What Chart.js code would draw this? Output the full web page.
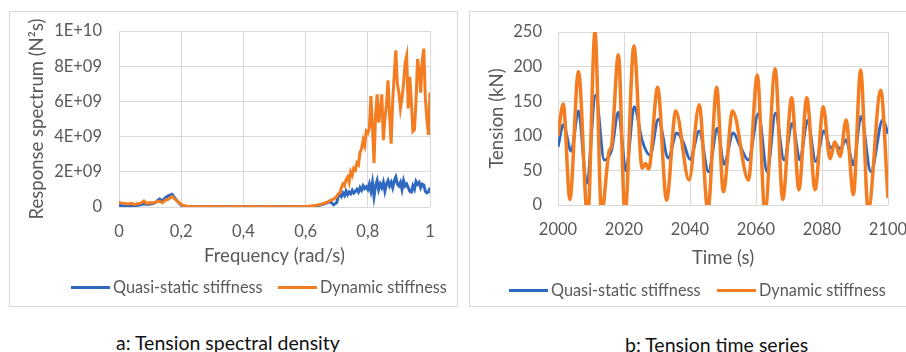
<!DOCTYPE html>
<html>
<head>
<meta charset="utf-8">
<script src="https://cdn.jsdelivr.net/npm/chart.js@4"></script>
<style>
  body { margin: 0; background: #fff; width: 906px; height: 352px; position: relative; overflow: hidden; font-family: Lato, "Open Sans", sans-serif; }
  .panel { position: absolute; border: 1px solid #d9d9d9; }
  .panel canvas { position: absolute; left: 0; top: 0; }
  .leg { position: absolute; font-size: 16.3px; color: #595959; white-space: nowrap; line-height: 18px; }
  .leg span.ln { display: inline-block; width: 39px; height: 3px; vertical-align: middle; margin-right: 3px; position: relative; top: -1px; }
  .cap { position: absolute; font-size: 19.5px; line-height: 1; color: #111; white-space: nowrap; }
</style>
</head>
<body>
<div class="panel" style="left:9px; top:11px; width:447px; height:294px;"><canvas id="chartA" width="447" height="294"></canvas></div>
<div class="panel" style="left:469px; top:11px; width:436px; height:294px; border-right:none;"><canvas id="chartB" width="436" height="294"></canvas></div>

<div class="leg" style="left:71px; top:278px;"><span class="ln" style="background:#2F68C0"></span>Quasi-static stiffness</div>
<div class="leg" style="left:278px; top:278px;"><span class="ln" style="background:#F47D22"></span>Dynamic stiffness</div>
<div class="leg" style="left:509px; top:281px;"><span class="ln" style="background:#2F68C0"></span>Quasi-static stiffness</div>
<div class="leg" style="left:717px; top:281px;"><span class="ln" style="background:#F47D22"></span>Dynamic stiffness</div>

<div class="cap" style="left:116px; top:333px;">a: Tension spectral density</div>
<div class="cap" style="left:625px; top:335px;">b: Tension time series</div>

<script>
// ---- chart a: spectral density (values in 1E+09 N²s) ----
const freqA = [
  0, 0.01, 0.02, 0.03, 0.04, 0.05, 0.06, 0.07, 0.08, 0.09,
  0.10, 0.11, 0.12, 0.13, 0.14, 0.15, 0.16, 0.17, 0.18, 0.19,
  0.20, 0.21, 0.22, 0.23, 0.24, 0.25, 0.26, 0.27, 0.28, 0.29,
  0.30, 0.31, 0.32, 0.33, 0.34, 0.35, 0.36, 0.37, 0.38, 0.39,
  0.40, 0.41, 0.42, 0.43, 0.44, 0.45, 0.46, 0.47, 0.48, 0.49,
  0.50, 0.51, 0.52, 0.53, 0.54, 0.55, 0.56, 0.57, 0.58, 0.59,
  0.60, 0.61, 0.62, 0.63, 0.64, 0.65, 0.66, 0.67, 0.68, 0.69,
  0.700, 0.705, 0.710, 0.715, 0.720, 0.725, 0.730, 0.735, 0.740, 0.745,
  0.750, 0.755, 0.760, 0.765, 0.770, 0.775, 0.780, 0.785, 0.790, 0.795,
  0.800, 0.805, 0.810, 0.815, 0.820, 0.825, 0.830, 0.835, 0.840, 0.845,
  0.850, 0.855, 0.860, 0.865, 0.870, 0.875, 0.880, 0.885, 0.890, 0.895,
  0.900, 0.905, 0.910, 0.915, 0.920, 0.925, 0.930, 0.935, 0.940, 0.945,
  0.950, 0.955, 0.960, 0.965, 0.970, 0.975, 0.980, 0.985, 0.990, 0.995,
  1.000
];
const quasiA = [
  0.10, 0.07, 0.05, 0.07, 0.09, 0.06, 0.10, 0.13, 0.18, 0.14,
  0.17, 0.20, 0.30, 0.45, 0.35, 0.55, 0.65, 0.72, 0.50, 0.28,
  0.10, 0.03, 0.02, 0.01, 0.01, 0.01, 0.01, 0.01, 0.01, 0.01,
  0.01, 0.01, 0.01, 0.01, 0.01, 0.01, 0.01, 0.01, 0.01, 0.01,
  0.01, 0.01, 0.01, 0.01, 0.01, 0.01, 0.01, 0.01, 0.01, 0.01,
  0.01, 0.01, 0.01, 0.01, 0.01, 0.01, 0.01, 0.01, 0.01, 0.01,
  0.02, 0.03, 0.04, 0.06, 0.09, 0.13, 0.18, 0.25, 0.30, 0.12,
  0.25, 0.60, 0.75, 0.60, 0.80, 0.65, 0.90, 0.70, 0.85, 0.75,
  0.95, 0.80, 0.90, 1.00, 0.85, 1.10, 0.95, 1.20, 1.05, 1.15,
  1.00, 1.30, 0.90, 1.40, 0.60, 1.20, 1.50, 1.00, 1.30, 1.10,
  1.40, 0.90, 1.30, 1.50, 1.20, 1.40, 1.10, 1.50, 1.70, 1.30,
  1.20, 1.40, 1.00, 1.50, 1.20, 1.30, 1.10, 0.90, 0.85, 1.20,
  1.00, 1.45, 1.30, 1.40, 1.10, 1.30, 1.25, 0.90, 0.80, 0.85,
  1.10
];
const dynA = [
  0.25, 0.22, 0.20, 0.17, 0.21, 0.15, 0.19, 0.22, 0.35, 0.20,
  0.25, 0.22, 0.30, 0.33, 0.24, 0.40, 0.45, 0.60, 0.45, 0.30,
  0.15, 0.07, 0.04, 0.03, 0.03, 0.02, 0.03, 0.02, 0.02, 0.03,
  0.02, 0.02, 0.02, 0.03, 0.02, 0.02, 0.02, 0.02, 0.03, 0.02,
  0.02, 0.02, 0.02, 0.03, 0.02, 0.02, 0.02, 0.02, 0.02, 0.03,
  0.02, 0.02, 0.02, 0.02, 0.02, 0.02, 0.03, 0.02, 0.02, 0.03,
  0.03, 0.04, 0.06, 0.08, 0.12, 0.16, 0.22, 0.28, 0.38, 0.45,
  0.60, 0.75, 0.80, 1.10, 1.30, 1.20, 1.55, 1.70, 1.40, 2.00,
  1.80, 2.20, 2.10, 2.50, 2.40, 3.10, 3.30, 3.80, 3.50, 4.30,
  4.20, 4.50, 6.30, 4.60, 2.50, 5.20, 6.40, 4.80, 5.50, 6.40,
  3.80, 5.00, 5.80, 7.20, 5.20, 3.60, 6.00, 7.50, 8.90, 7.00,
  6.50, 5.60, 6.20, 7.00, 8.20, 8.60, 5.60, 7.40, 6.00, 4.30,
  4.40, 6.00, 8.40, 7.80, 6.50, 8.30, 9.00, 6.20, 5.00, 4.10,
  6.50
];
const xTicksA = ['0', '0,2', '0,4', '0,6', '0,8', '1'];
const yTicksA = ['0', '2E+09', '4E+09', '6E+09', '8E+09', '1E+10'];

// ---- chart b: tension time series (kN) ----
const tQuasiB = [2000, 2001.6, 2004, 2006.2, 2008.7, 2011.4, 2014, 2016.2, 2018.3, 2020.6,
  2023.1, 2025.5, 2027.9, 2030.4, 2033.4, 2036, 2038, 2040, 2042.8, 2045.6,
  2048.3, 2050.3, 2053.1, 2055.2, 2057.7, 2060.7, 2063.4, 2065.9, 2068.5, 2071,
  2073.3, 2075.6, 2078.1, 2080.6, 2082.7, 2084, 2085.5, 2087.3, 2089.5, 2091.8,
  2094.8, 2098.4, 2100];
const vQuasiB = [84, 116, 78, 136, 31, 159, 65, 79, 134, 49,
  142, 93, 72, 124, 68, 104, 90, 66, 107, 48,
  111, 59, 104, 85, 65, 132, 48, 133, 65, 118,
  65, 122, 63, 107, 82, 88, 81, 94, 58, 128,
  48, 123, 103];
const tDynB = [2000, 2001.6, 2003.6, 2006.2, 2009, 2011.2, 2013.2, 2015.5, 2016.2, 2018.3,
  2020.3, 2023, 2025.5, 2026.5, 2027.5, 2030.2, 2032.9, 2035.7, 2039.7, 2042.8,
  2045.4, 2048.1, 2050.1, 2052.9, 2057.7, 2060.4, 2062.7, 2065.8, 2068.1, 2070.8,
  2073, 2075.4, 2077.9, 2080.4, 2082.4, 2083.9, 2085.5, 2087.3, 2089.5, 2091.7,
  2094, 2097.8, 2100];
const vDynB = [100, 146, 8, 193, -20, 250, -12, 78, 85, 217,
  -15, 230, 53, 60, 52, 170, 7, 136, 36, 145,
  -8, 170, 19, 136, 36, 188, -12, 197, 8, 155,
  22, 155, 22, 142, 67, 91, 70, 123, 15, 195,
  -8, 166, 10];
const xTicksB = ['2000', '2020', '2040', '2060', '2080', '2100'];
const yTicksB = ['0', '50', '100', '150', '200', '250'];

const BLUE = '#2F68C0';
const ORANGE = '#F47D22';
const TXT = '#595959';
const GRID = '#d9d9d9';
const FONT = 'Lato, "Open Sans", sans-serif';

function pairs(xs, ys) {
  return xs.map((x, i) => ({ x: x, y: ys[i] }));
}

function makeChart(id, cfg) {
  return new Chart(document.getElementById(id), {
    type: 'line',
    data: {
      datasets: [
        { data: cfg.dyn, borderColor: ORANGE, borderWidth: cfg.lw[1], order: 0,
          cubicInterpolationMode: cfg.smooth ? 'monotone' : 'default', tension: 0 },
        { data: cfg.quasi, borderColor: BLUE, borderWidth: cfg.lw[0], order: 1,
          cubicInterpolationMode: cfg.smooth ? 'monotone' : 'default', tension: 0 }
      ]
    },
    options: {
      responsive: false,
      animation: false,
      elements: { point: { radius: 0 } },
      layout: { padding: cfg.pad },
      plugins: { legend: { display: false }, tooltip: { enabled: false } },
      scales: {
        x: {
          type: 'linear', min: cfg.xMin, max: cfg.xMax,
          ticks: { stepSize: cfg.xStep, color: TXT, font: { family: FONT, size: 16.5 }, padding: 15,
                   maxRotation: 0, autoSkip: false,
                   callback: (v, i) => cfg.xTicks[i] },
          grid: { color: GRID, drawTicks: false },
          border: { display: false },
          title: { display: true, text: cfg.xTitle, color: TXT, font: { family: FONT, size: 18.5 }, padding: 0 },
          afterFit: (s) => { s.height = cfg.xh; s.paddingLeft = 0; s.paddingRight = 0; }
        },
        y: {
          min: cfg.yMin, max: cfg.yMax,
          ticks: { stepSize: cfg.yStep, color: TXT, font: { family: FONT, size: 16.5 }, padding: cfg.yTickPad,
                   callback: (v, i) => cfg.yTicks[i] },
          grid: { color: GRID, drawTicks: false },
          border: { display: false },
          title: { display: true, text: cfg.yTitle, color: TXT, font: { family: FONT, size: 18.5 }, padding: { top: cfg.yTitlePad, bottom: 0 } },
          afterFit: (s) => { s.width = cfg.yw; s.paddingTop = 0; s.paddingBottom = 0; }
        }
      }
    }
  });
}

makeChart('chartA', {
  quasi: pairs(freqA, quasiA), dyn: pairs(freqA, dynA), smooth: false, lw: [3, 3],
  xMin: 0, xMax: 1, xStep: 0.2, xTicks: xTicksA, xTitle: 'Frequency (rad/s)',
  yMin: 0, yMax: 10, yStep: 2, yTicks: yTicksA, yTitle: 'Response spectrum (N²s)',
  pad: { left: 0, right: 27, top: 19, bottom: 39 }, xh: 60, yw: 109, yTickPad: 17, yTitlePad: 16
});

makeChart('chartB', {
  quasi: pairs(tQuasiB, vQuasiB), dyn: pairs(tDynB, vDynB), smooth: true, lw: [3, 3.5],
  xMin: 2000, xMax: 2100, xStep: 20, xTicks: xTicksB, xTitle: 'Time (s)',
  yMin: 0, yMax: 250, yStep: 50, yTicks: yTicksB, yTitle: 'Tension (kN)',
  pad: { left: 0, right: 18, top: 20, bottom: 37 }, xh: 64, yw: 88, yTickPad: 16, yTitlePad: 16
});
</script>
</body>
</html>
